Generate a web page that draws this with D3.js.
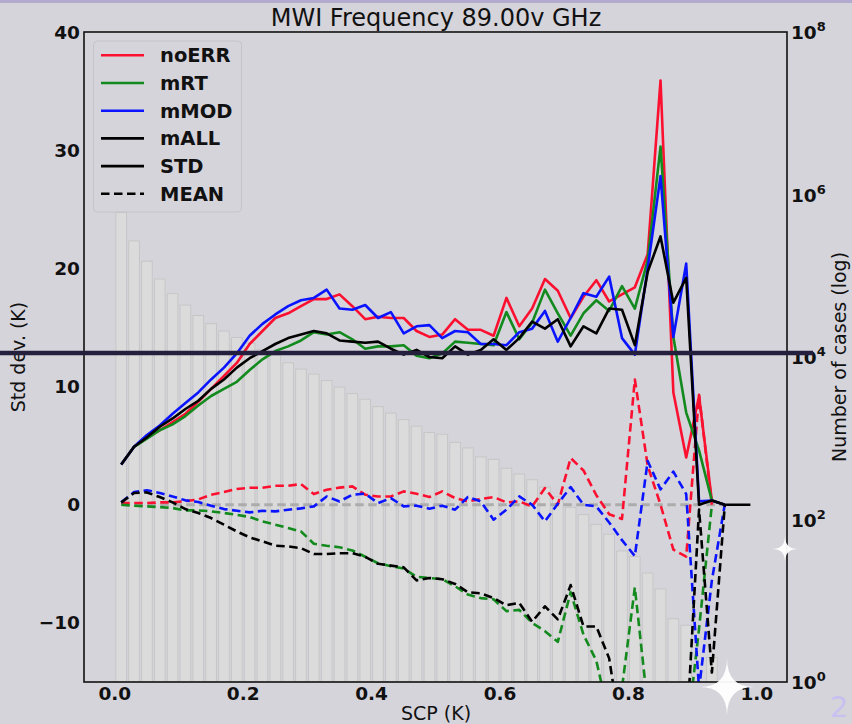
<!DOCTYPE html>
<html><head><meta charset="utf-8">
<script src="https://cdn.jsdelivr.net/npm/d3@7"></script>
<style>
html,body{margin:0;padding:0;background:#d6d4db;}
svg{display:block;}
text{font-family:"DejaVu Sans",sans-serif;}
</style></head>
<body>
<svg id="c" width="852" height="724"></svg>
<script>
// ---------- data ----------
const scp = [0.01,0.03,0.05,0.07,0.09,0.11,0.13,0.15,0.17,0.19,0.21,0.23,0.25,0.27,0.29,0.31,0.33,0.35,0.37,0.39,
  0.41,0.43,0.45,0.47,0.49,0.51,0.53,0.55,0.57,0.59,0.61,0.63,0.65,0.67,0.69,0.71,0.73,0.75,0.77,0.79,
  0.81,0.83,0.85,0.87,0.89,0.91,0.93,0.95,0.97,0.99];

const counts = [600000,269000,151000,91200,60300,43600,32400,25700,20900,17400,14800,12300,10500,8500,7100,6170,5130,4270,3550,3020,
  2450,2040,1700,1410,1175,1120,890,760,590,550,427,363,309,251,190,141,115,87,66,41,35,22,14,6,5,1,2];

const stdNoERR = [3.4,4.9,5.7,6.3,7.0,7.7,8.7,9.8,10.9,12.0,13.6,14.7,15.8,16.2,16.8,17.4,17.4,17.8,16.8,15.7,
  15.9,15.8,15.8,14.7,14.2,14.4,15.7,14.8,14.8,14.3,17.5,15.1,16.6,19.1,18.1,15.8,17.6,19.0,17.2,17.8,
  18.4,21.2,35.9,9.5,4.0,9.2,0.35,0];
const stdMRT = [3.4,4.9,5.6,6.3,6.8,7.5,8.4,9.2,9.8,10.4,11.4,12.3,13.0,13.4,13.9,14.6,14.4,14.6,14.0,13.2,
  13.4,13.4,13.5,12.6,12.4,12.8,13.8,13.7,13.6,13.5,16.3,14.0,15.4,18.2,16.2,14.3,16.2,17.3,16.4,18.5,
  16.6,20.7,30.3,14.2,7.8,4.6,0.35,0];
const stdMMOD = [3.4,4.9,5.9,6.7,7.7,8.6,9.5,10.6,11.6,12.8,14.3,15.3,16.1,16.8,17.3,17.5,18.2,16.6,16.5,16.9,
  15.8,16.3,14.5,15.1,15.2,14.1,14.7,14.6,13.6,13.6,13.5,14.6,14.9,16.4,13.8,15.8,17.9,17.6,19.3,14.1,
  12.7,20.0,27.8,14.2,20.4,0.3,0.35,0];
const stdMALL = [3.4,4.9,5.7,6.6,7.3,8.1,8.8,9.8,10.6,11.6,12.4,13.0,13.6,14.1,14.4,14.7,14.5,13.9,13.8,13.7,
  13.8,13.2,12.7,13.1,12.5,12.4,13.4,12.7,13.1,14.0,13.1,14.1,15.5,14.9,15.7,13.4,15.1,14.5,16.6,16.5,
  13.5,19.7,22.7,17.1,19.2,0,0.35,0,0,0];

const meanNoERR = [0.14,0.14,0.14,0.2,0.2,0.3,0.45,0.85,1.07,1.33,1.44,1.44,1.6,1.6,1.75,0.9,1.27,1.45,1.55,0.85,
  0.7,0.7,1.13,0.93,0.65,1.13,0.56,0.28,0.48,0.65,0.2,0.28,-0.14,1.41,0,3.95,2.9,0.8,-0.8,-1.2,
  10.6,3.3,0,-3.8,-4.4,9.3,0];
const meanMRT = [0,-0.08,-0.14,-0.2,-0.28,-0.48,-0.48,-0.56,-0.7,-0.85,-1.04,-1.41,-1.69,-1.97,-2.26,-3.3,-3.47,-3.6,-3.87,-4.4,
  -4.95,-5.2,-5.4,-6.1,-6.2,-6.3,-6.9,-7.6,-7.9,-8.0,-9.0,-8.9,-10.0,-10.7,-11.6,-7.4,-11.0,-13.2,-18,-15.5,
  -7.0,-17,-20,-20,-20,-10.5,0];
const meanMMOD = [0.2,1.07,1.22,1.0,0.7,0.37,0.23,-0.08,-0.37,-0.51,-0.65,-0.51,-0.56,-0.42,-0.31,-0.14,0.7,0.28,0.85,0.93,
  0.14,0.56,-0.14,-0.08,-0.34,-0.08,-0.42,0.65,0.28,-1.27,-0.42,0.7,0,-1.41,0.08,1.5,0,-0.14,-1.5,-3.0,
  -4.35,3.7,1.3,2.8,0.9,-15.6,-6.4,0];
const meanMALL = [0.2,0.99,1.04,0.65,0.2,-0.37,-0.7,-1.13,-1.69,-2.26,-2.76,-3.1,-3.47,-3.53,-3.67,-4.17,-4.17,-4.1,-4.1,-4.4,
  -5.0,-5.15,-5.3,-6.4,-6.2,-6.3,-6.7,-7.4,-7.5,-7.9,-8.5,-8.3,-9.9,-8.6,-9.7,-6.8,-10.3,-10.3,-13.0,-20,
  -20,-20,-20,-20,-20,-0.4,-14.2,-0.1];
const zeroRef = [0,0,0,0,0,0,0,0,0,0,0,0,0,0,0,0,0,0,0,0,0,0,0,0,0,0,0,0,0,0,0,0,0,0,0,0,0,0,0,0,0,0,0,0,0,0,0,0];

const xTicks = [0.0,0.2,0.4,0.6,0.8,1.0];
const yTicks = [-10,0,10,20,30,40];
const yRTicks = [0,2,4,6,8];
const legendNames = ["noERR","mRT","mMOD","mALL","STD","MEAN"];
const overlayLevel = 11200;

// ---------- layout ----------
const svg = d3.select("#c");
const L=84,R=787,T=32,B=682;
const x = d3.scaleLinear().domain([-0.048,1.047]).range([L,R]);
const yL = d3.scaleLinear().domain([-15,40]).range([B,T]);
const yR = d3.scaleLog().domain([1,1e8]).range([B,T]);

svg.append("rect").attr("x",0).attr("y",0).attr("width",852).attr("height",724).attr("fill","#d6d4db");
svg.append("rect").attr("x",0).attr("y",0).attr("width",852).attr("height",3).attr("fill","#b3abcf");

svg.append("defs").append("clipPath").attr("id","clip")
  .append("rect").attr("x",L).attr("y",T).attr("width",R-L).attr("height",B-T);

const plot = svg.append("g").attr("clip-path","url(#clip)");

// bars
plot.selectAll("rect.bar").data(counts).enter().append("rect")
  .attr("class","bar")
  .attr("x",(d,i)=>x(scp[i]-0.0083))
  .attr("width",x(0.0166)-x(0))
  .attr("y",d=>yR(d))
  .attr("height",d=>B-yR(d))
  .attr("fill","#dbdbdb").attr("stroke","#c6c6c6").attr("stroke-width",1);

const line = d3.line().x((d,i)=>x(scp[i])).y(d=>yL(d));

function draw(arr,color,dashed,w){
  plot.append("path").datum(arr).attr("d",line)
    .attr("fill","none").attr("stroke",color).attr("stroke-width",w)
    .attr("stroke-linejoin","round")
    .attr("stroke-dasharray",dashed?"8.5,4.5":null);
}
draw(zeroRef,"#acacac",true,3);
const cols = {r:"#fb1030",g:"#138a1e",b:"#0a14ff",k:"#000000"};
draw(meanNoERR,cols.r,true,2.6);
draw(meanMRT,cols.g,true,2.6);
draw(meanMMOD,cols.b,true,2.6);
draw(meanMALL,cols.k,true,2.6);
draw(stdNoERR,cols.r,false,2.6);
draw(stdMRT,cols.g,false,2.6);
draw(stdMMOD,cols.b,false,2.6);
draw(stdMALL,cols.k,false,2.6);

// frame
svg.append("rect").attr("x",L).attr("y",T).attr("width",R-L).attr("height",B-T)
  .attr("fill","none").attr("stroke","#111").attr("stroke-width",1.6);

// x ticks
svg.selectAll("text.xt").data(xTicks).enter().append("text")
  .attr("x",d=>x(d)).attr("y",700).attr("text-anchor","middle")
  .attr("font-size",18.5).attr("font-weight","bold").attr("fill","#111")
  .text(d=>d.toFixed(1));
// left ticks
svg.selectAll("text.yt").data(yTicks).enter().append("text")
  .attr("x",80).attr("y",d=>yL(d)+6.5).attr("text-anchor","end")
  .attr("font-size",18.5).attr("font-weight","bold").attr("fill","#111")
  .text(d=>d<0?"\u2212"+Math.abs(d):String(d));
// right ticks
const rt = svg.selectAll("text.rt").data(yRTicks).enter().append("text")
  .attr("x",791).attr("y",d=>yR(Math.pow(10,d))+7)
  .attr("font-size",18.5).attr("font-weight","bold").attr("fill","#111");
rt.append("tspan").text("10");
rt.append("tspan").attr("dy",-8).attr("font-size",13).text(d=>d);

// labels
svg.append("text").attr("x",436).attr("y",26).attr("text-anchor","middle")
  .attr("font-size",24).attr("fill","#111").text("MWI Frequency 89.00v GHz");
svg.append("text").attr("x",436).attr("y",720).attr("text-anchor","middle")
  .attr("font-size",19).attr("fill","#111").text("SCP (K)");
svg.append("text").attr("transform","translate(25,357) rotate(-90)").attr("text-anchor","middle")
  .attr("font-size",19).attr("fill","#111").text("Std dev. (K)");
svg.append("text").attr("transform","translate(846,357) rotate(-90)").attr("text-anchor","middle")
  .attr("font-size",19).attr("fill","#111").text("Number of cases (log)");

// legend
const lg = svg.append("g");
lg.append("rect").attr("x",93.5).attr("y",41).attr("width",148).attr("height",171).attr("rx",4)
  .attr("fill","#d6d4db").attr("stroke","#c4c4c8").attr("stroke-width",1);
const legCols=[cols.r,cols.g,cols.b,cols.k,cols.k,cols.k];
legendNames.forEach((n,i)=>{
  const yy = 55.3 + i*27.7;
  lg.append("line").attr("x1",101).attr("x2",144).attr("y1",yy).attr("y2",yy)
    .attr("stroke",legCols[i]).attr("stroke-width",2.6)
    .attr("stroke-dasharray",i===5?"8.5,4.5":null);
  lg.append("text").attr("x",160).attr("y",yy+7).attr("font-size",19.5).attr("font-weight","bold")
    .attr("fill","#111").text(n);
});

// overlay dark line
svg.append("line").attr("x1",0).attr("x2",813).attr("y1",yR(overlayLevel)).attr("y2",yR(overlayLevel))
  .attr("stroke","#241f3c").attr("stroke-width",4.5);

// sparkles
function star(cx,cy,rx,ry){
  const p = `M${cx-rx},${cy} Q${cx},${cy} ${cx},${cy-ry} Q${cx},${cy} ${cx+rx},${cy} Q${cx},${cy} ${cx},${cy+ry} Q${cx},${cy} ${cx-rx},${cy} Z`;
  svg.append("path").attr("d",p).attr("fill","#ffffff").attr("opacity",0.95);
}
star(785,549,13,13);
star(727,687,27,29);
svg.append("text").attr("x",830).attr("y",717).attr("font-size",29).attr("fill","#c8c0f0").text("2");
</script>
</body></html>
